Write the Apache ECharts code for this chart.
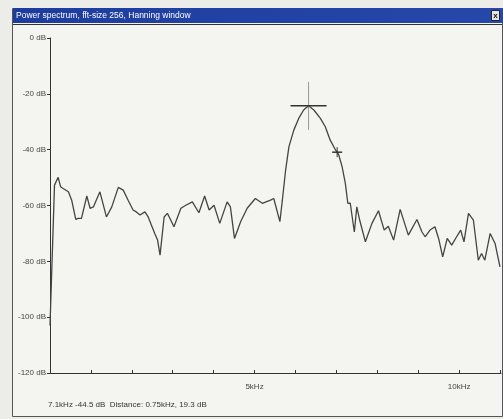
<!DOCTYPE html>
<html>
<head>
<meta charset="utf-8">
<script src="https://cdn.jsdelivr.net/npm/echarts@6/dist/echarts.min.js"></script>
<style>
  html, body { margin: 0; padding: 0; background: #ecece8; }
  #chart { width: 503px; height: 419px; }
</style>
</head>
<body>
<div id="chart"></div>
<script>
// spectrum trace (kHz, dB)
var freqKHz = [0.0, 0.11, 0.20, 0.26, 0.32, 0.45, 0.53, 0.63, 0.69, 0.77, 0.90, 0.98, 1.06, 1.22, 1.38, 1.51, 1.67, 1.79, 1.91, 2.03,
  2.11, 2.20, 2.32, 2.40, 2.56, 2.63, 2.69, 2.79, 2.87, 3.03, 3.20, 3.32, 3.48, 3.64, 3.78, 3.89, 4.01, 4.15, 4.33, 4.41,
  4.51, 4.66, 4.82, 5.02, 5.19, 5.39, 5.47, 5.62, 5.68, 5.76, 5.84, 5.96, 6.08, 6.20, 6.32, 6.45, 6.61, 6.73, 6.85, 6.98,
  7.06, 7.14, 7.22, 7.28, 7.34, 7.44, 7.50, 7.57, 7.71, 7.87, 8.03, 8.17, 8.27, 8.40, 8.56, 8.76, 8.97, 9.09, 9.17, 9.29,
  9.41, 9.50, 9.60, 9.71, 9.82, 9.94, 10.04, 10.12, 10.23, 10.35, 10.47, 10.55, 10.63, 10.76, 10.88, 11.00];
var levelDb = [-103, -52.7, -49.9, -53.3, -53.9, -55.1, -58.1, -65.0, -64.6, -64.6, -56.6, -61.0, -60.5, -55.1, -64.1, -60.5, -53.5, -54.5, -58.1, -61.6,
  -62.3, -63.4, -62.3, -64.1, -70.0, -72.4, -77.8, -64.1, -62.8, -67.6, -61.0, -59.9, -58.7, -62.6, -56.6, -61.6, -59.9, -66.4, -58.7, -60.5,
  -71.8, -65.8, -61.0, -57.5, -59.2, -58.1, -57.5, -65.8, -58.1, -47.3, -39.0, -33.0, -28.8, -25.8, -24.3, -25.8, -28.8, -31.8, -36.6, -40.1,
  -41.9, -46.1, -52.1, -59.2, -59.2, -69.5, -60.5, -65.2, -73.0, -66.4, -61.9, -68.8, -67.4, -72.4, -61.4, -70.6, -65.0, -69.4, -71.2, -68.8,
  -67.6, -71.8, -78.4, -71.8, -74.2, -71.2, -68.8, -73.0, -62.8, -65.2, -79.6, -77.2, -79.6, -70.0, -73.6, -82.0];

// cursors (kHz, dB)
var cursorMain = [6.32, -24.3];
var cursorSecond = [7.02, -40.9];

// axis labels
var xTickLabels = { 5: "5kHz", 10: "10kHz" };
var titleText = "Power spectrum, fft-size 256, Hanning window";
var statusText = "7.1kHz -44.5 dB  Distance: 0.75kHz, 19.3 dB";

var chart = echarts.init(document.getElementById("chart"));

var trace = freqKHz.map(function (f, i) { return [f, levelDb[i]]; });

// draws a cross at the data point, arm sizes in px
function crossItem(h, up, down, hColor, vColor) {
  return function (params, api) {
    var p = api.coord([api.value(0), api.value(1)]);
    return {
      type: "group",
      children: [
        { type: "line", shape: { x1: p[0], y1: p[1] - up, x2: p[0], y2: p[1] + down },
          style: { stroke: vColor, lineWidth: 1 } },
        { type: "line", shape: { x1: p[0] - h, y1: p[1], x2: p[0] + h, y2: p[1] },
          style: { stroke: hColor, lineWidth: 1.5 } }
      ]
    };
  };
}

var option = {
  animation: false,
  backgroundColor: "#ecece8",
  grid: { left: 50, right: 2, top: 38, bottom: 46 },
  xAxis: {
    type: "value",
    min: 0,
    max: 11.025,
    interval: 1,
    axisLine: { onZero: false, lineStyle: { color: "#333", width: 1 } },
    axisTick: { inside: true, length: 3, lineStyle: { color: "#333" } },
    axisLabel: {
      color: "#444",
      fontSize: 8,
      fontFamily: "Liberation Sans",
      margin: 10,
      showMaxLabel: false,
      formatter: function (v) { return xTickLabels[v] || ""; }
    },
    splitLine: { show: false }
  },
  yAxis: {
    type: "value",
    min: -120,
    max: 0,
    interval: 20,
    axisLine: { show: true, onZero: false, lineStyle: { color: "#333", width: 1 } },
    axisTick: { show: true, length: 3, lineStyle: { color: "#333" } },
    axisLabel: {
      color: "#444",
      fontSize: 8,
      fontFamily: "Liberation Sans",
      margin: 4,
      formatter: "{value} dB"
    },
    splitLine: { show: false }
  },
  graphic: [
    { type: "rect", z: -10, shape: { x: 12.5, y: 8.5, width: 490, height: 408 },
      style: { fill: "#f4f4f0", stroke: "#555", lineWidth: 1 } },
    { type: "rect", z: -9, shape: { x: 13, y: 8, width: 490, height: 15 },
      style: { fill: new echarts.graphic.LinearGradient(0, 0, 1, 0, [
        { offset: 0, color: "#1d3c9e" },
        { offset: 1, color: "#2648ab" }
      ]) } },
    { type: "text", z: -8, x: 16, y: 16, style: { text: titleText, fill: "#ffffff",
      font: "8.5px 'Liberation Sans'", verticalAlign: "middle" } },
    { type: "rect", z: -8, shape: { x: 491.5, y: 10.5, width: 8, height: 10 },
      style: { fill: "#e4e4e4", stroke: "#222", lineWidth: 1 } },
    { type: "text", z: -7, x: 495.5, y: 16, style: { text: "x", fill: "#111",
      font: "bold 8px 'Liberation Sans'", align: "center", verticalAlign: "middle" } },
    { type: "line", z: -8, shape: { x1: 13, y1: 24.5, x2: 502, y2: 24.5 },
      style: { stroke: "#333", lineWidth: 1 } },
    { type: "text", z: -8, x: 48, y: 405, style: { text: statusText, fill: "#333",
      font: "8px 'Liberation Sans'", verticalAlign: "middle" } }
  ],
  series: [
    {
      type: "line",
      data: trace,
      showSymbol: false,
      lineStyle: { color: "#444", width: 1.3 },
      z: 3
    },
    {
      type: "custom",
      data: [cursorMain],
      renderItem: crossItem(18, 24, 24, "#333", "#999"),
      z: 4
    },
    {
      type: "custom",
      data: [cursorSecond],
      renderItem: crossItem(5, 5, 5, "#333", "#333"),
      z: 4
    }
  ]
};

chart.setOption(option);
window.addEventListener("resize", function () {
  chart.resize();
});
</script>
</body>
</html>
